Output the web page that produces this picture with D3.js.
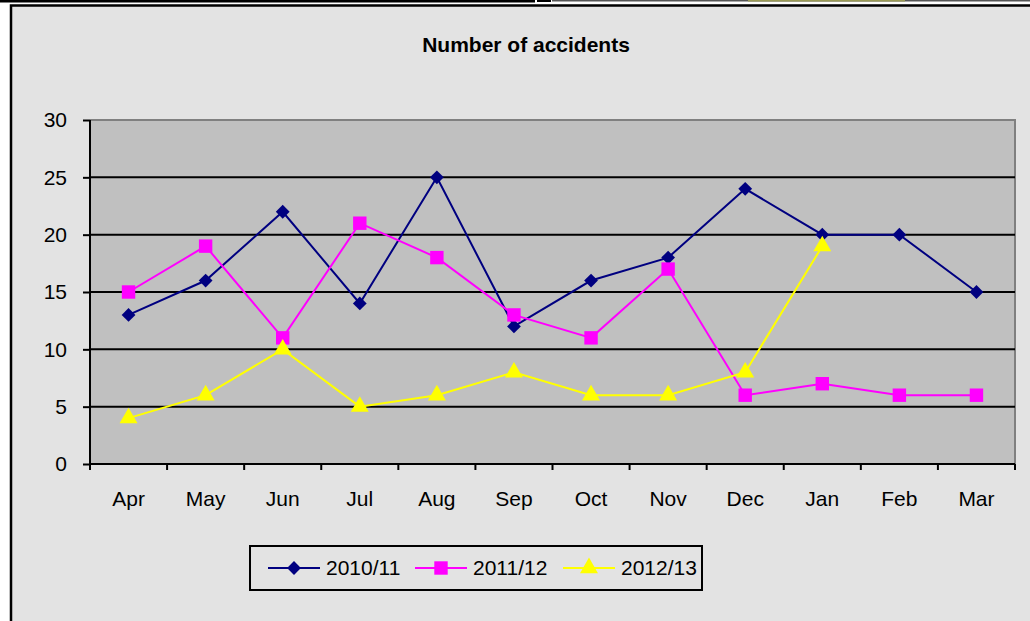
<!DOCTYPE html>
<html>
<head>
<meta charset="utf-8">
<script src="https://cdn.jsdelivr.net/npm/d3@7"></script>
<style>
  body { margin: 0; background: #fff; }
  svg { display: block; font-family: "Liberation Sans", Arial, sans-serif; }
</style>
</head>
<body>
<script>
var months = ["Apr", "May", "Jun", "Jul", "Aug", "Sep", "Oct", "Nov", "Dec", "Jan", "Feb", "Mar"];
var seriesNames = ["2010/11", "2011/12", "2012/13"];
var values2010 = [13, 16, 22, 14, 25, 12, 16, 18, 24, 20, 20, 15];
var values2011 = [15, 19, 11, 21, 18, 13, 11, 17, 6, 7, 6, 6];
var values2012 = [4, 6, 10, 5, 6, 8, 6, 6, 8, 19, null, null];
var yTicks = [0, 5, 10, 15, 20, 25, 30];

var colors = ["#000080", "#ff00ff", "#ffff00"];
var symbols = [d3.symbolSquare, d3.symbolSquare, d3.symbolTriangle];
var symSizes = [95, 180, 140];
var symRotate = [45, 0, 0];

var W = 1030, H = 621;
var svg = d3.select("body").append("svg").attr("width", W).attr("height", H);

// spreadsheet bits above the chart
svg.append("rect").attr("x", 0).attr("y", 0).attr("width", 535).attr("height", 2.5).attr("fill", "#000");
svg.append("rect").attr("x", 537).attr("y", 0).attr("width", 14).attr("height", 2).attr("fill", "#000");
svg.append("rect").attr("x", 552).attr("y", 0).attr("width", 478).attr("height", 1.5).attr("fill", "#555");
svg.append("rect").attr("x", 748).attr("y", 0).attr("width", 157).attr("height", 1.5).attr("fill", "#9a9a55");

// chart area
svg.append("rect").attr("x", 11).attr("y", 5.5).attr("width", 1040).attr("height", 640)
  .attr("fill", "#e3e3e3").attr("stroke", "#000").attr("stroke-width", 2.5);

svg.append("text").attr("x", 526).attr("y", 52).attr("text-anchor", "middle")
  .attr("font-size", 21).attr("font-weight", "bold").text("Number of accidents");

var pLeft = 90, pRight = 1015, pTop = 120, pBottom = 464;
var x = d3.scaleBand().domain(months).range([pLeft, pRight]);
var y = d3.scaleLinear().domain([0, 30]).range([pBottom, pTop]);

svg.append("rect").attr("x", pLeft).attr("y", pTop).attr("width", pRight - pLeft).attr("height", pBottom - pTop)
  .attr("fill", "#c0c0c0");
// gray top/right border
svg.append("path").attr("d", "M" + pLeft + "," + pTop + "H" + pRight + "V" + pBottom)
  .attr("fill", "none").attr("stroke", "#808080").attr("stroke-width", 2);

// gridlines
svg.selectAll("line.grid").data(yTicks.filter(function (d) { return d > 0 && d < 30; }))
  .enter().append("line").attr("class", "grid")
  .attr("x1", pLeft).attr("x2", pRight)
  .attr("y1", function (d) { return y(d); }).attr("y2", function (d) { return y(d); })
  .attr("stroke", "#000").attr("stroke-width", 2);

// y axis
var yAxis = svg.append("g").attr("transform", "translate(" + pLeft + ",0)")
  .call(d3.axisLeft(y).tickValues(yTicks).tickSize(7).tickPadding(16));
yAxis.select(".domain").attr("stroke-width", 2).attr("d", "M0," + pTop + "V" + pBottom);
yAxis.selectAll(".tick line").attr("stroke-width", 2);
yAxis.selectAll(".tick text").attr("font-size", 21).attr("font-family", "Liberation Sans, Arial, sans-serif").attr("fill", "#000");

// x axis with ticks at category boundaries
var xAxis = svg.append("g").attr("transform", "translate(0," + pBottom + ")")
  .call(d3.axisBottom(x).tickSize(0).tickPadding(27));
xAxis.select(".domain").attr("stroke-width", 2).attr("d", "M" + pLeft + ",0H" + pRight);
xAxis.selectAll(".tick text").attr("font-size", 21).attr("font-family", "Liberation Sans, Arial, sans-serif").attr("fill", "#000");
svg.selectAll("line.xtick").data(months.concat(["end"]))
  .enter().append("line").attr("class", "xtick")
  .attr("x1", function (d, i) { return pLeft + i * x.bandwidth(); })
  .attr("x2", function (d, i) { return pLeft + i * x.bandwidth(); })
  .attr("y1", pBottom).attr("y2", pBottom + 6)
  .attr("stroke", "#000").attr("stroke-width", 2);

var allSeries = [values2010, values2011, values2012];
var line = d3.line()
  .defined(function (d) { return d != null; })
  .x(function (d, i) { return x(months[i]) + x.bandwidth() / 2; })
  .y(function (d) { return y(d); });

allSeries.forEach(function (vals, s) {
  svg.append("path").attr("d", line(vals)).attr("fill", "none")
    .attr("stroke", colors[s]).attr("stroke-width", 2);
  svg.selectAll("path.m" + s).data(vals.map(function (v, i) { return {v: v, i: i}; }).filter(function (d) { return d.v != null; }))
    .enter().append("path").attr("class", "m" + s)
    .attr("transform", function (d) {
      return "translate(" + (x(months[d.i]) + x.bandwidth() / 2) + "," + y(d.v) + ") rotate(" + symRotate[s] + ")";
    })
    .attr("d", d3.symbol().type(symbols[s]).size(symSizes[s]))
    .attr("fill", colors[s]);
});

// legend
var lg = svg.append("g");
lg.append("rect").attr("x", 250).attr("y", 546).attr("width", 452).attr("height", 44)
  .attr("fill", "#e3e3e3").attr("stroke", "#000").attr("stroke-width", 2);
var legendX = [268, 415, 563];
seriesNames.forEach(function (name, s) {
  var lx = legendX[s];
  lg.append("line").attr("x1", lx).attr("x2", lx + 52).attr("y1", 568).attr("y2", 568)
    .attr("stroke", colors[s]).attr("stroke-width", 2);
  lg.append("path").attr("transform", "translate(" + (lx + 26) + ",568) rotate(" + symRotate[s] + ")")
    .attr("d", d3.symbol().type(symbols[s]).size(symSizes[s])).attr("fill", colors[s]);
  lg.append("text").attr("x", lx + 58).attr("y", 575).attr("font-size", 21).text(name);
});
</script>
</body>
</html>
